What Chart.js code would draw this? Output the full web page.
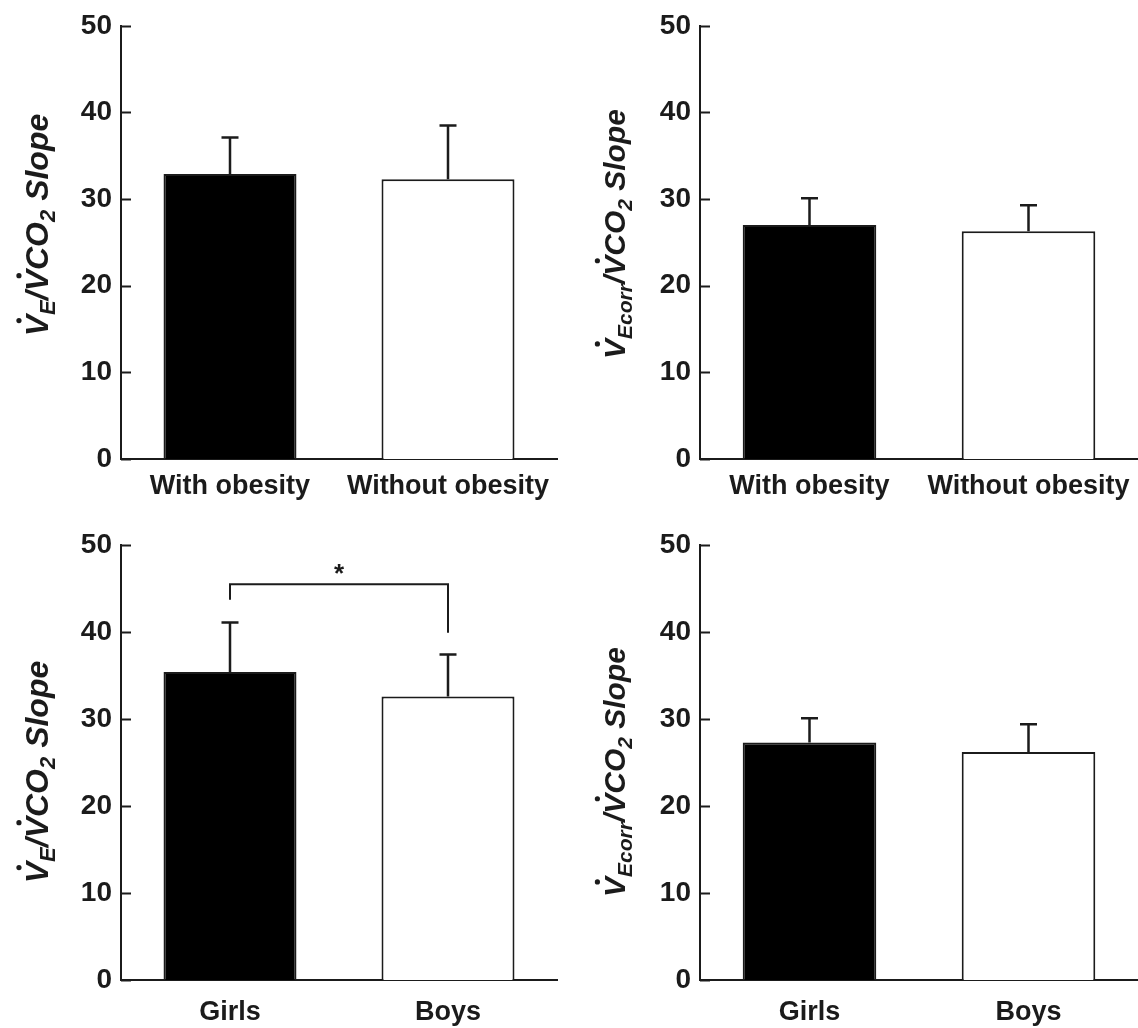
<!DOCTYPE html>
<html>
<head>
<meta charset="utf-8">
<script src="https://cdn.jsdelivr.net/npm/chart.js@4.4.1/dist/chart.umd.min.js"></script>
<style>
  html, body { margin: 0; padding: 0; background: #fff; }
  #wrap { position: relative; width: 1138px; height: 1028px; }
  canvas { position: absolute; }
</style>
</head>
<body>
<div id="wrap">
  <canvas id="c1" width="569" height="514" style="left:0;top:0"></canvas>
  <canvas id="c2" width="569" height="514" style="left:569px;top:0"></canvas>
  <canvas id="c3" width="569" height="514" style="left:0;top:514px"></canvas>
  <canvas id="c4" width="569" height="514" style="left:569px;top:514px"></canvas>
</div>
<script>
// categories
const obesityGroups = ["With obesity", "Without obesity"];
const sexGroups = ["Girls", "Boys"];
const yTicks = [0, 10, 20, 30, 40, 50];

// means and SD
const veSlopeObesity = [32.9, 32.3];
const veSlopeObesitySd = [4.2, 6.2];
const vecorrSlopeObesity = [27.0, 26.3];
const vecorrSlopeObesitySd = [3.1, 3.0];
const veSlopeSex = [35.4, 32.6];
const veSlopeSexSd = [5.7, 4.8];
const vecorrSlopeSex = [27.3, 26.2];
const vecorrSlopeSexSd = [2.8, 3.2];

// significance bracket: level, left leg end, right leg end
const sigBracket = [45.5, 43.7, 39.9];
const sigLabel = "*";

const FONT = '"Liberation Sans", Arial, sans-serif';
const INK = "#1b1b1b";

const veTitle = [
  { t: "V", dot: true }, { t: "E", sub: true }, { t: "/" },
  { t: "V", dot: true }, { t: "CO" }, { t: "2", sub: true }, { t: " Slope" }
];
const vecorrTitle = [
  { t: "V", dot: true }, { t: "Ecorr", sub: true }, { t: "/" },
  { t: "V", dot: true }, { t: "CO" }, { t: "2", sub: true }, { t: " Slope" }
];

// per-panel extras, looked up by canvas id
const panels = {};

function drawTitle(ctx, parts, bx, cy, big) {
  const small = Math.round(big * 0.7);
  ctx.save();
  ctx.translate(bx, cy);
  ctx.rotate(-Math.PI / 2);
  ctx.fillStyle = INK;
  ctx.textBaseline = "alphabetic";
  let total = 0;
  const widths = parts.map(p => {
    ctx.font = `italic bold ${p.sub ? small : big}px ${FONT}`;
    const w = ctx.measureText(p.t).width;
    total += w;
    return w;
  });
  let x = -total / 2;
  parts.forEach((p, i) => {
    ctx.font = `italic bold ${p.sub ? small : big}px ${FONT}`;
    ctx.fillText(p.t, x, p.sub ? 7 : 0);
    if (p.dot) {
      ctx.beginPath();
      ctx.arc(x + widths[i] / 2 + 5, -big * 0.72 - 6, 2.6, 0, Math.PI * 2);
      ctx.fill();
    }
    x += widths[i];
  });
  ctx.restore();
}

const overlay = {
  id: "overlay",
  afterDatasetsDraw(chart) {
    const p = panels[chart.canvas.id];
    const ctx = chart.ctx;
    const xs = chart.scales.x, ys = chart.scales.y;
    const ds = chart.data.datasets[0];
    const bars = chart.getDatasetMeta(0).data;
    ctx.save();
    ctx.strokeStyle = INK;
    ctx.lineWidth = 2;

    // inward tick marks
    yTicks.forEach(v => {
      const py = Math.round(ys.getPixelForValue(v)) + 0.5;
      ctx.beginPath();
      ctx.moveTo(xs.left, py);
      ctx.lineTo(xs.left + 10, py);
      ctx.stroke();
    });

    // error bars (upper only)
    bars.forEach((bar, i) => {
      const top = ys.getPixelForValue(ds.data[i] + p.sd[i]);
      const base = ys.getPixelForValue(ds.data[i]);
      ctx.lineWidth = 2.5;
      ctx.beginPath();
      ctx.moveTo(bar.x, base);
      ctx.lineTo(bar.x, top);
      ctx.moveTo(bar.x - 8.5, top);
      ctx.lineTo(bar.x + 8.5, top);
      ctx.stroke();
    });

    // significance bracket
    if (p.bracket) {
      const yl = ys.getPixelForValue(sigBracket[0]);
      ctx.lineWidth = 2;
      ctx.beginPath();
      ctx.moveTo(bars[0].x, ys.getPixelForValue(sigBracket[1]));
      ctx.lineTo(bars[0].x, yl);
      ctx.lineTo(bars[1].x, yl);
      ctx.lineTo(bars[1].x, ys.getPixelForValue(sigBracket[2]));
      ctx.stroke();
      ctx.fillStyle = INK;
      ctx.font = `bold 26px ${FONT}`;
      ctx.textAlign = "center";
      ctx.textBaseline = "alphabetic";
      ctx.fillText(sigLabel, (bars[0].x + bars[1].x) / 2, yl - 2);
    }
    ctx.restore();

    drawTitle(ctx, p.title, p.titleX, p.titleY, p.titleSize);
  }
};

function makeChart(id, labels, values, sd, title, lay) {
  panels[id] = Object.assign({ sd: sd, title: title }, lay);
  return new Chart(document.getElementById(id), {
    type: "bar",
    data: {
      labels: labels,
      datasets: [{
        data: values,
        backgroundColor: ["#000000", "#ffffff"],
        borderColor: INK,
        borderWidth: 2,
        borderSkipped: "bottom",
        barPercentage: 0.61,
        categoryPercentage: 1
      }]
    },
    options: {
      responsive: false,
      animation: false,
      devicePixelRatio: 1,
      layout: { padding: { top: lay.top, right: lay.right, left: 0, bottom: 0 } },
      plugins: {
        legend: { display: false },
        tooltip: { enabled: false }
      },
      scales: {
        x: {
          grid: { display: false, drawTicks: false },
          border: { display: true, color: INK, width: 2 },
          ticks: { color: INK, font: { family: FONT, size: 27, weight: "bold" }, padding: lay.xPad },
          afterFit: s => { s.height = lay.xh; s.paddingLeft = 0; s.paddingRight = 0; }
        },
        y: {
          min: 0, max: 50,
          grid: { display: false, drawTicks: false },
          border: { display: true, color: INK, width: 2 },
          ticks: { stepSize: 10, color: INK, font: { family: FONT, size: 28, weight: "bold" }, padding: 9 },
          afterFit: s => { s.width = lay.yw; }
        }
      }
    },
    plugins: [overlay]
  });
}

makeChart("c1", obesityGroups, veSlopeObesity, veSlopeObesitySd, veTitle,
  { top: 25, right: 12, xh: 55, yw: 121, xPad: 11, titleX: 48, titleY: 225, titleSize: 32 });
makeChart("c2", obesityGroups, vecorrSlopeObesity, vecorrSlopeObesitySd, vecorrTitle,
  { top: 25, right: 0, xh: 55, yw: 131, xPad: 11, titleX: 56, titleY: 234, titleSize: 30 });
makeChart("c3", sexGroups, veSlopeSex, veSlopeSexSd, veTitle,
  { top: 31, right: 12, xh: 48, yw: 121, xPad: 16, titleX: 48, titleY: 258, titleSize: 32, bracket: true });
makeChart("c4", sexGroups, vecorrSlopeSex, vecorrSlopeSexSd, vecorrTitle,
  { top: 31, right: 0, xh: 48, yw: 131, xPad: 16, titleX: 56, titleY: 258, titleSize: 30 });
</script>
</body>
</html>
